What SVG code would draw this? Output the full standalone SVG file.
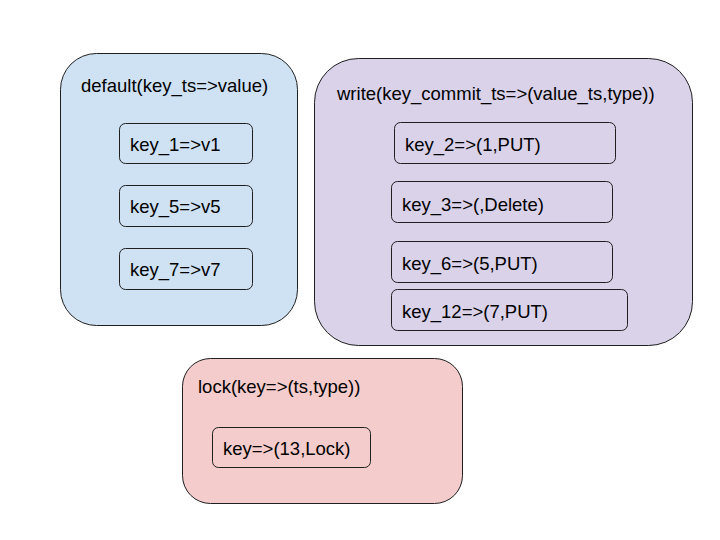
<svg xmlns="http://www.w3.org/2000/svg" width="720" height="540" viewBox="0 0 720 540">
<style>
  text { font-family: "Liberation Sans", Arial, sans-serif; font-size: 18.5px; fill: #000; }
  .outer { stroke: #1f1f1f; stroke-width: 1; }
  .inner { stroke: #1f1f1f; stroke-width: 1; }
  .blue { fill: #cfe2f3; }
  .purple { fill: #d9d2e9; }
  .pink { fill: #f4cccc; }
</style>
<rect width="720" height="540" fill="#ffffff"/>
<g id="default">
  <rect class="outer blue" x="60.5" y="53.5" width="237" height="272" rx="36" ry="36"/>
  <text x="81" y="92">default(key_ts=&gt;value)</text>
  <g id="key_1">
    <rect class="inner blue" x="119.5" y="123.5" width="133" height="40" rx="6" ry="6"/>
    <text x="130" y="151">key_1=&gt;v1</text>
  </g>
  <g id="key_5">
    <rect class="inner blue" x="119.5" y="185.5" width="133" height="41" rx="6" ry="6"/>
    <text x="130" y="213">key_5=&gt;v5</text>
  </g>
  <g id="key_7">
    <rect class="inner blue" x="119.5" y="248.5" width="133" height="41" rx="6" ry="6"/>
    <text x="130" y="276">key_7=&gt;v7</text>
  </g>
</g>
<g id="write">
  <rect class="outer purple" x="314.5" y="58.5" width="378" height="287" rx="44" ry="44"/>
  <text x="337" y="100">write(key_commit_ts=&gt;(value_ts,type))</text>
  <g id="key_2">
    <rect class="inner purple" x="394.5" y="122.5" width="221" height="41" rx="6" ry="6"/>
    <text x="405" y="151">key_2=&gt;(1,PUT)</text>
  </g>
  <g id="key_3">
    <rect class="inner purple" x="391.5" y="181.5" width="221" height="41" rx="6" ry="6"/>
    <text x="402" y="211">key_3=&gt;(,Delete)</text>
  </g>
  <g id="key_6">
    <rect class="inner purple" x="391.5" y="241.5" width="221" height="41" rx="6" ry="6"/>
    <text x="402" y="270">key_6=&gt;(5,PUT)</text>
  </g>
  <g id="key_12">
    <rect class="inner purple" x="391.5" y="289.5" width="236" height="41" rx="6" ry="6"/>
    <text x="402" y="318">key_12=&gt;(7,PUT)</text>
  </g>
</g>
<g id="lock">
  <rect class="outer pink" x="182.5" y="358.5" width="280" height="145" rx="28" ry="28"/>
  <text x="198" y="393">lock(key=&gt;(ts,type))</text>
  <g id="key_lock">
    <rect class="inner pink" x="212.5" y="427.5" width="158" height="40" rx="6" ry="6"/>
    <text x="223" y="455">key=&gt;(13,Lock)</text>
  </g>
</g>
<g id="connectors"></g>
</svg>
